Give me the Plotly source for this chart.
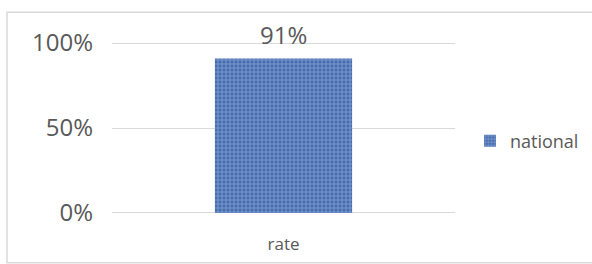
import plotly.graph_objects as go

categories = ["rate"]
national = [0.91]
series_name = "national"
tick_vals = [0, 0.5, 1.0]
tick_text = ["0%", "50%", "100%"]

W, H = 592, 264
YMIN, YMAX = -0.03, 1.03
# pixel positions of the plot frame (left/right) and the 0 / 1 levels
PX_L, PX_R = 112, 455
PY_0, PY_1 = 213, 43
unit = PY_0 - PY_1
top_px = PY_1 - (YMAX - 1) * unit
bot_px = PY_0 + (0 - YMIN) * unit
L, R, T, B = PX_L, W - PX_R, top_px, H - bot_px
pw, ph = W - L - R, H - T - B

def px_x(x):
    return (x - L) / pw

def px_y(y):
    return (bot_px - y) / ph

fig = go.Figure()
fig.add_trace(go.Bar(
    x=categories, y=national, name=series_name,
    marker=dict(
        color="#4d74b8",
        line=dict(width=0),
        pattern=dict(shape="+", size=4, solidity=0.45,
                     fgcolor="#a9c3ef", bgcolor="#476cae"),
    ),
    showlegend=True,
))

for c, v in zip(categories, national):
    fig.add_annotation(x=c, y=v, text=f"{round(v*100)}%", showarrow=False,
                       yanchor="bottom", yshift=5,
                       font=dict(family="Open Sans", size=24, color="#595959"))

fig.add_shape(type="rect", xref="paper", yref="paper",
              x0=px_x(7), x1=px_x(600), y0=px_y(263), y1=px_y(12),
              line=dict(color="#d9d9d9", width=1.5), fillcolor="rgba(0,0,0,0)",
              layer="below")

fig.update_layout(
    width=W, height=H,
    margin=dict(l=L, r=R, t=T, b=B, pad=0, autoexpand=False),
    paper_bgcolor="white", plot_bgcolor="white",
    bargap=0.6,
    font=dict(family="Open Sans", color="#595959"),
    showlegend=True,
    legend=dict(x=px_x(470), y=px_y(141), xanchor="left", yanchor="middle",
                font=dict(size=18, color="#595959"), bgcolor="rgba(0,0,0,0)"),
    xaxis=dict(showgrid=False, zeroline=False, showline=False, ticks="",
               automargin=False,
               tickfont=dict(size=17, color="#595959"), ticklabelstandoff=14),
    yaxis=dict(range=[YMIN, YMAX], tickvals=tick_vals, ticktext=tick_text,
               automargin=False,
               showgrid=True, gridcolor="#d9d9d9", gridwidth=1.3,
               zeroline=False, showline=False, ticks="",
               tickfont=dict(size=24, color="#595959"), ticklabelstandoff=18),
)

fig.write_html("out.html", config={"displayModeBar": False},
               post_script="document.body.style.margin='0';document.body.style.padding='0';")
